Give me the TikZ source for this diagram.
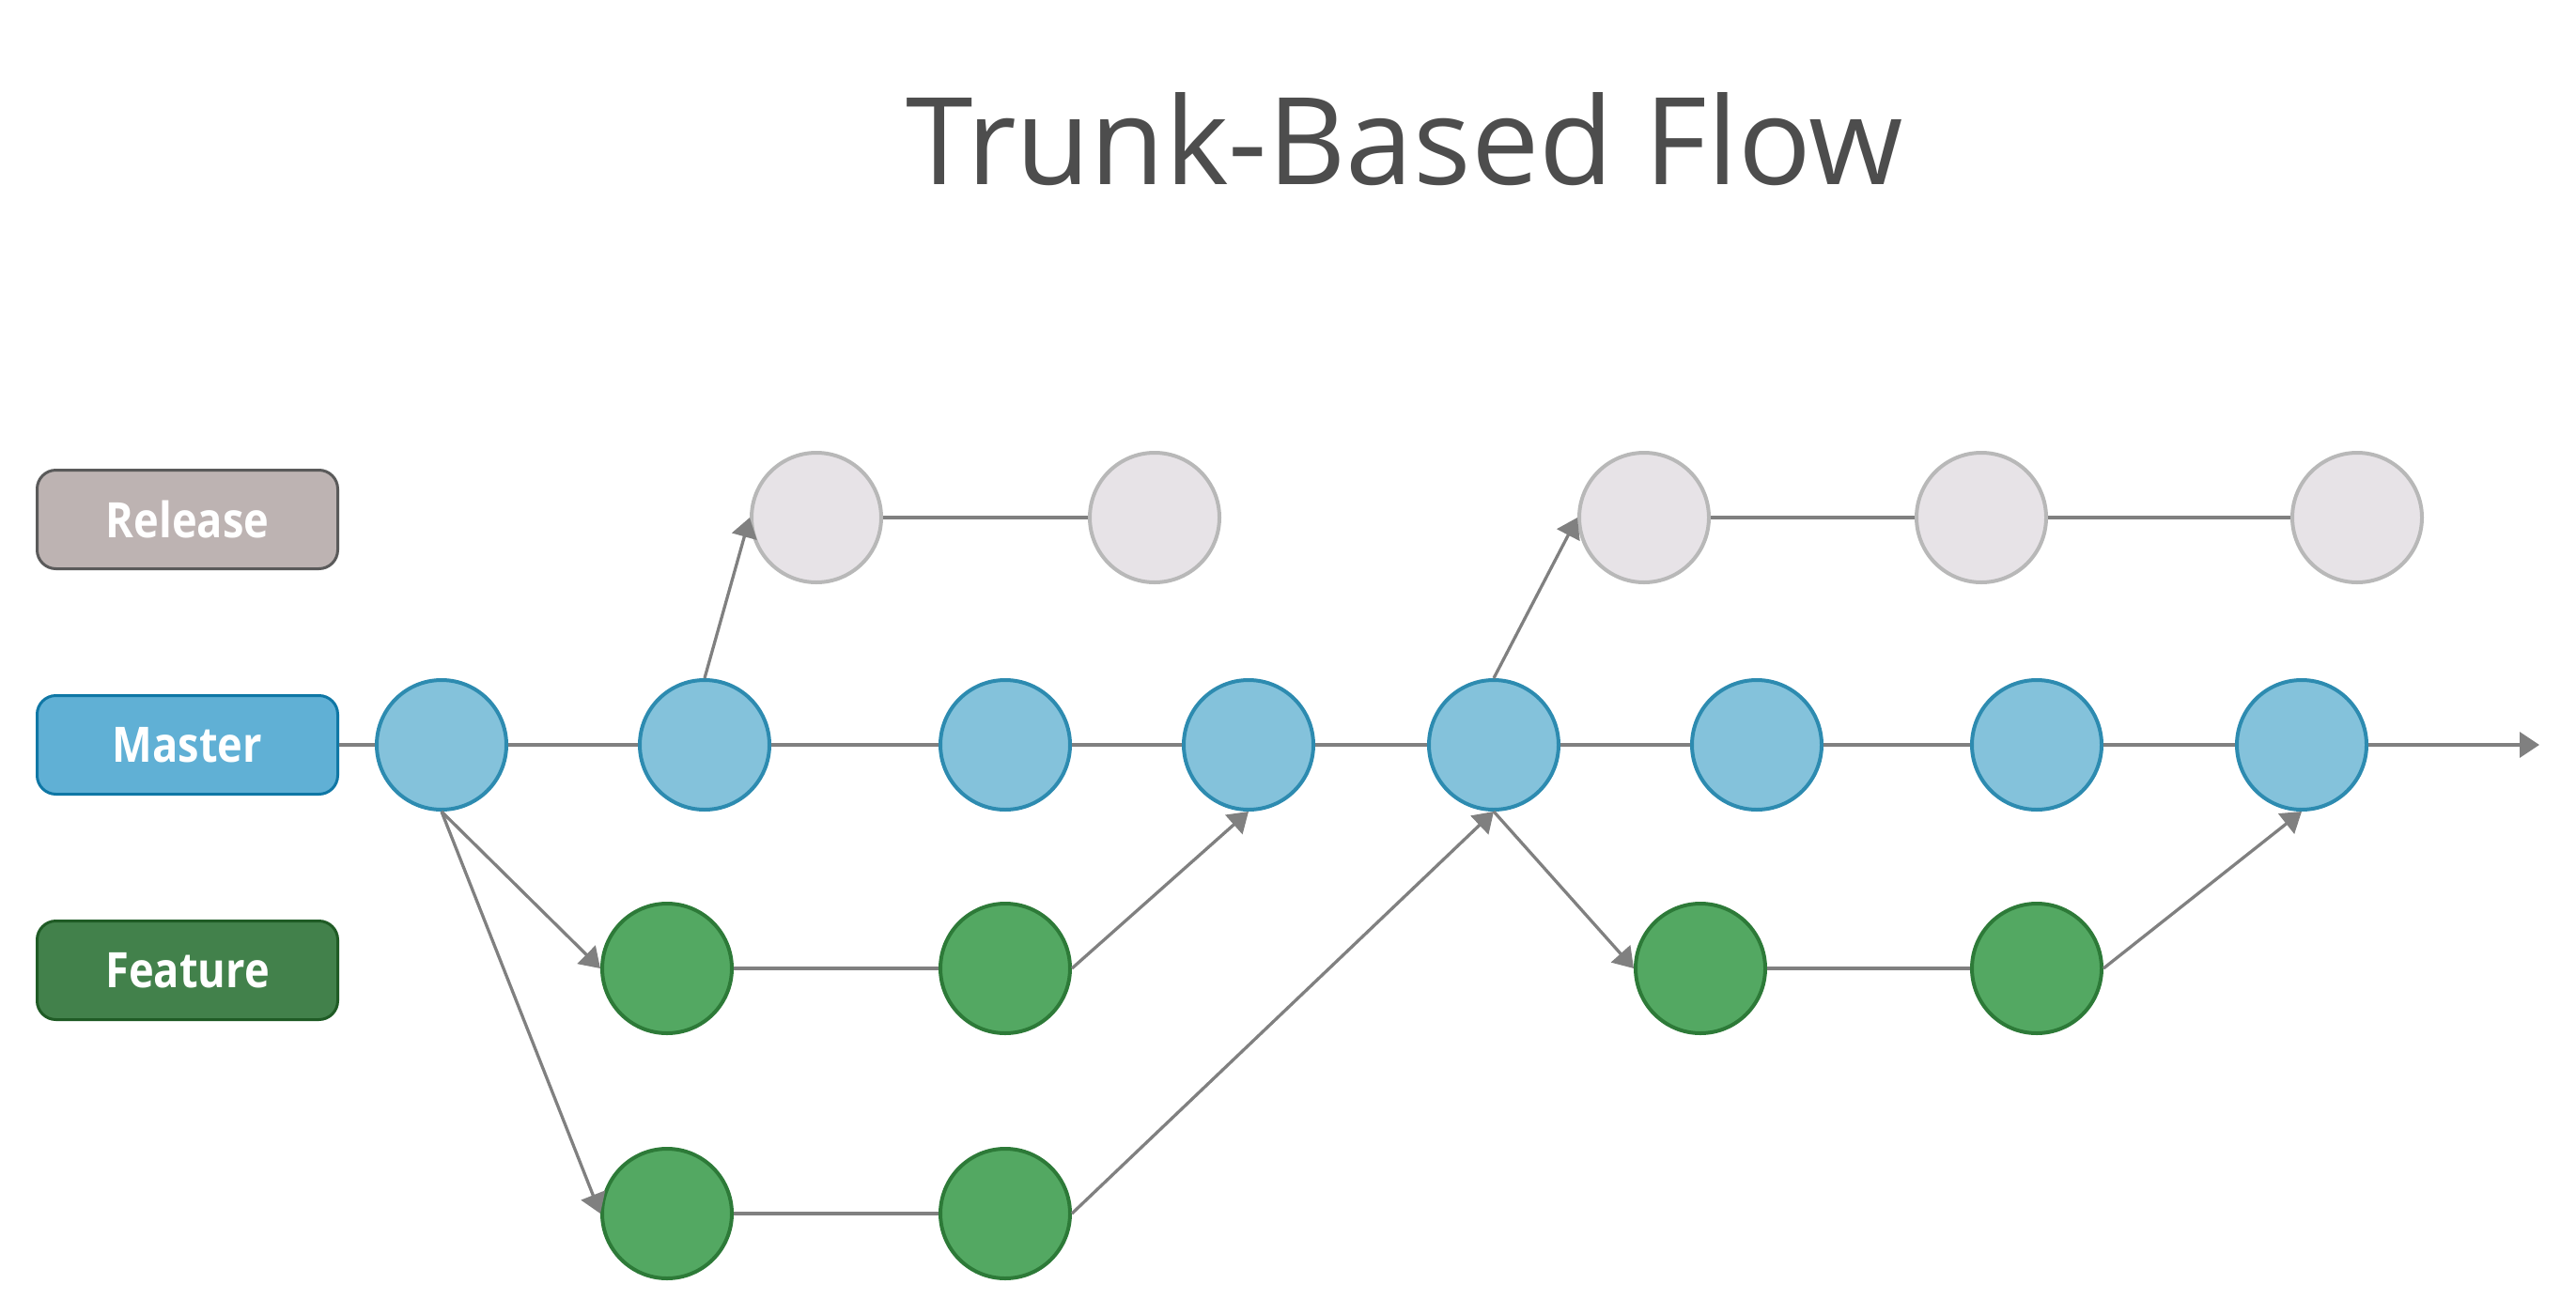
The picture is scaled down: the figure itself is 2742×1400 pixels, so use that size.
\documentclass[tikz,border=0pt]{standalone}
\usepackage{fontspec}
\setmainfont{Open Sans}
\newfontfamily\lanefont[FakeStretch=0.87]{Open Sans}
\usetikzlibrary{arrows.meta,positioning}

\definecolor{titlegray}{HTML}{4D4D4D}
\definecolor{linegray}{HTML}{808080}
\definecolor{relbox}{HTML}{BDB3B2}
\definecolor{relboxline}{HTML}{5A5A5A}
\definecolor{masbox}{HTML}{60B0D5}
\definecolor{masboxline}{HTML}{0F77A5}
\definecolor{feabox}{HTML}{42814B}
\definecolor{feaboxline}{HTML}{1F5B25}
\definecolor{relfill}{HTML}{E7E3E7}
\definecolor{relline}{HTML}{B8B8B8}
\definecolor{masfill}{HTML}{84C2DB}
\definecolor{masline}{HTML}{2D8BB0}
\definecolor{feafill}{HTML}{53A862}
\definecolor{fealine}{HTML}{2D7A38}

\tikzset{
  lane/.style={rectangle, rounded corners=20pt, line width=3pt,
    minimum width=320pt, minimum height=105pt, text=white,
    font=\lanefont\bfseries\fontsize{52}{60}\selectfont},
  commit/.style={circle, minimum size=138pt, inner sep=0pt, line width=4pt},
  rel/.style={commit, fill=relfill, draw=relline},
  mas/.style={commit, fill=masfill, draw=masline},
  fea/.style={commit, fill=feafill, draw=fealine},
  flow/.style={draw=linegray, line width=3.3pt},
  merge/.style={flow, -{Triangle[length=21pt,width=27pt]}, linegray}
}

\begin{document}
\begin{tikzpicture}[x=1pt,y=-1pt]
   \useasboundingbox (0,0) rectangle (2742,1400);
   \node[anchor=base, text=titlegray, font=\fontsize{129}{150}\selectfont] (title) at (1495,196) {Trunk-Based Flow};

   % lanes
   \node[lane, fill=relbox, draw=relboxline] (release) at (199.5,553) {Release};
   \node[lane, fill=masbox, draw=masboxline] (master) at (199.5,793) {Master};
   \node[lane, fill=feabox, draw=feaboxline] (feature) at (199.5,1033) {Feature};

   % master commits
   \node[mas] (m_1) at (470,793) {};
   \node[mas] (m_2) at (750,793) {};
   \node[mas] (m_3) at (1070,793) {};
   \node[mas] (m_4) at (1329,793) {};
   \node[mas] (m_5) at (1590,793) {};
   \node[mas] (m_6) at (1870,793) {};
   \node[mas] (m_7) at (2168,793) {};
   \node[mas] (m_8) at (2450,793) {};
   \coordinate (m_end) at (2703,793);

   % release commits
   \node[rel] (r_1) at (869,551) {};
   \node[rel] (r_2) at (1229,551) {};
   \node[rel] (r_3) at (1750,551) {};
   \node[rel] (r_4) at (2109,551) {};
   \node[rel] (r_5) at (2509,551) {};

   % feature commits
   \node[fea] (f_1) at (710,1031) {};
   \node[fea] (f_2) at (1070,1031) {};
   \node[fea] (f_3) at (1810,1031) {};
   \node[fea] (f_4) at (2168,1031) {};
   \node[fea] (g_1) at (710,1292) {};
   \node[fea] (g_2) at (1070,1292) {};

   \path[every edge/.append style={flow}]
    (master) edge (m_1)
    (m_1) edge (m_2)
    (m_2) edge (m_3)
    (m_3) edge (m_4)
    (m_4) edge (m_5)
    (m_5) edge (m_6)
    (m_6) edge (m_7)
    (m_7) edge (m_8)
    (r_1) edge (r_2)
    (r_3) edge (r_4)
    (r_4) edge (r_5)
    (f_1) edge (f_2)
    (f_3) edge (f_4)
    (g_1) edge (g_2);
    \path[every edge/.append style={merge}]
    (m_8)       edge (m_end)
    (m_1.south) edge (f_1.west)
                edge (g_1.west)
    (m_2.north) edge (r_1.west)
    (f_2.east)  edge (m_4.south)
    (g_2.east)  edge (m_5.south)
    (m_5.north) edge (r_3.west)
    (m_5.south) edge (f_3.west)
    (f_4.east)  edge (m_8.south);
\end{tikzpicture}
\end{document}
